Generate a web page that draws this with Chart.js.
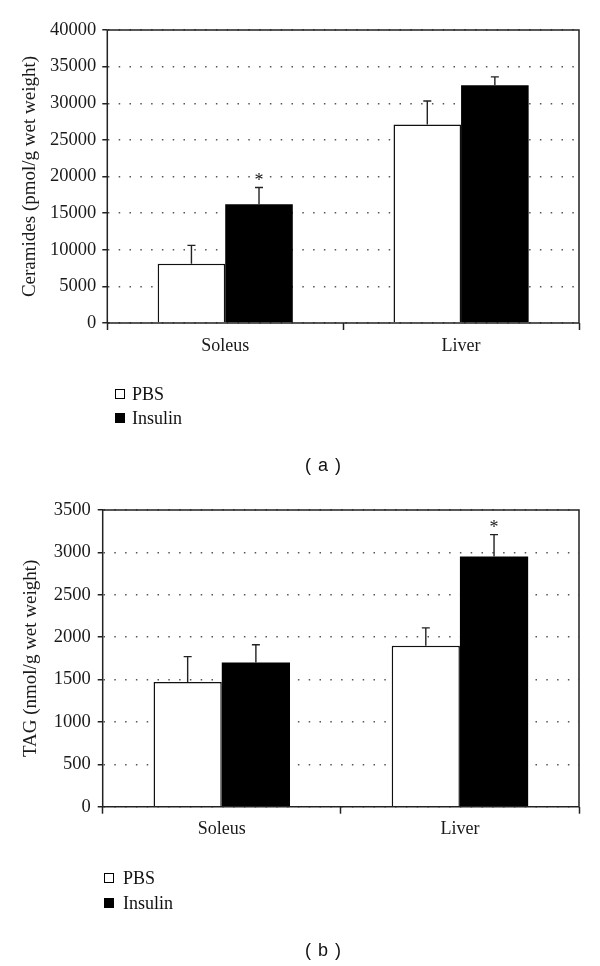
<!DOCTYPE html>
<html>
<head>
<meta charset="utf-8">
<script src="https://cdn.jsdelivr.net/npm/chart.js@4.4.1/dist/chart.umd.min.js"></script>
<style>
html,body{margin:0;padding:0;background:#fff;}
body{width:600px;height:966px;overflow:hidden;position:relative;font-family:'Liberation Serif',serif;}
.panel{position:absolute;left:0;width:600px;}
canvas{display:block;}
.row{position:absolute;white-space:nowrap;font-size:18px;line-height:20px;height:20px;color:#111;}
.sq{position:absolute;width:8px;height:8px;border:1px solid #000;}
.cap{position:absolute;font-family:'Liberation Sans',sans-serif;font-size:18px;color:#111;word-spacing:2px;transform:translate(-50%,-50%);white-space:pre;}
</style>
</head>
<body>
<div class="panel" style="top:0;height:480px;"><canvas id="chartA" width="600" height="480"></canvas></div>
<div class="panel" style="top:480px;height:486px;"><canvas id="chartB" width="600" height="486"></canvas></div>

<div class="sq" style="left:115px;top:389px;background:#fff;"></div>
<div class="row" style="left:132px;top:384px;">PBS</div>
<div class="sq" style="left:115px;top:413px;background:#000;"></div>
<div class="row" style="left:132px;top:408px;">Insulin</div>
<div class="cap" style="left:323px;top:465px;">( a )</div>

<div class="sq" style="left:104px;top:873px;background:#fff;"></div>
<div class="row" style="left:123px;top:868px;">PBS</div>
<div class="sq" style="left:104px;top:898px;background:#000;"></div>
<div class="row" style="left:123px;top:893px;">Insulin</div>
<div class="cap" style="left:323px;top:950px;">( b )</div>

<script>
// ---- data ----
const categories = ['Soleus', 'Liver'];
const seriesNames = ['PBS', 'Insulin'];

const ceramidePBS = [8100, 27100];
const ceramidePBSErr = [2500, 3200];
const ceramideInsulin = [16200, 32450];
const ceramideInsulinErr = [2300, 1150];
const ceramidePBSSig = [false, false];
const ceramideInsulinSig = [true, false];
const ceramideTitle = 'Ceramides (pmol/g wet weight)';
const ceramideMax = 40000;
const ceramideStep = 5000;

const tagPBS = [1470, 1900];
const tagPBSErr = [300, 210];
const tagInsulin = [1700, 2950];
const tagInsulinErr = [210, 260];
const tagPBSSig = [false, false];
const tagInsulinSig = [false, true];
const tagTitle = 'TAG (nmol/g wet weight)';
const tagMax = 3500;
const tagStep = 500;

const SERIF = "'Liberation Serif', 'Times New Roman', serif";
const TXT = '#1a1a1a';

const errorBarPlugin = {
  id: 'errorBars',
  afterDatasetsDraw(chart) {
    const ctx = chart.ctx;
    const y = chart.scales.y;
    const ca = chart.chartArea;
    ctx.save();
    ctx.strokeStyle = '#222';
    ctx.lineWidth = 1.5;
    ctx.beginPath();
    ctx.moveTo(ca.left, ca.bottom);
    ctx.lineTo(ca.left, ca.top);
    ctx.lineTo(ca.right, ca.top);
    ctx.lineTo(ca.right, ca.bottom);
    ctx.lineTo(ca.left, ca.bottom);
    ctx.stroke();
    chart.data.datasets.forEach((ds, i) => {
      const meta = chart.getDatasetMeta(i);
      meta.data.forEach((bar, j) => {
        const v = ds.data[j];
        const e = ds.errors[j];
        const yTop = y.getPixelForValue(v + e);
        ctx.strokeStyle = '#222';
        ctx.lineWidth = 1.4;
        ctx.beginPath();
        ctx.moveTo(bar.x, bar.y);
        ctx.lineTo(bar.x, yTop);
        ctx.moveTo(bar.x - 4, yTop);
        ctx.lineTo(bar.x + 4, yTop);
        ctx.stroke();
        if (ds.sig[j]) {
          ctx.fillStyle = TXT;
          ctx.font = '18px ' + SERIF;
          ctx.textAlign = 'center';
          ctx.textBaseline = 'alphabetic';
          ctx.fillText('*', bar.x, yTop - 1.5);
        }
      });
    });
    ctx.restore();
  }
};

function makeChart(id, g, pbs, pbsErr, pbsSig, ins, insErr, insSig, title, max, step) {
  return new Chart(document.getElementById(id), {
    type: 'bar',
    data: {
      labels: categories,
      datasets: [
        { label: seriesNames[0], data: pbs, errors: pbsErr, sig: pbsSig,
          backgroundColor: '#ffffff', borderColor: '#111', borderWidth: 1.5, borderSkipped: 'bottom' },
        { label: seriesNames[1], data: ins, errors: insErr, sig: insSig,
          backgroundColor: '#000000', borderColor: '#000', borderWidth: 0 }
      ]
    },
    options: {
      responsive: false,
      animation: false,
      layout: { padding: { top: g.top, right: 600 - g.right, left: 0, bottom: 0 } },
      plugins: { legend: { display: false }, tooltip: { enabled: false } },
      datasets: { bar: { categoryPercentage: 0.573, barPercentage: 1 } },
      scales: {
        x: {
          grid: { offset: true, drawOnChartArea: false, drawTicks: true, tickLength: 7,
                  tickColor: '#222', tickWidth: 1.5, color: '#222' },
          border: { display: false },
          ticks: { font: { family: SERIF, size: 18 }, color: TXT, padding: 5, maxRotation: 0 },
          afterFit: (s) => { s.height = g.h - g.bottom; }
        },
        y: {
          min: 0, max: max,
          grid: { color: '#555', lineWidth: 1.5, tickLength: 5, tickColor: '#222', tickWidth: 1.5,
                  tickBorderDash: [] },
          border: { display: false, dash: [1.5, 9.3], dashOffset: g.dashOff },
          ticks: { stepSize: step, font: { family: SERIF, size: 18.5 }, color: TXT, padding: g.tickPad,
                   callback: (v) => String(v) },
          title: { display: true, text: title, font: { family: SERIF, size: 19 }, color: TXT,
                   padding: { top: g.titleX - 11.4, bottom: 0 } },
          afterFit: (s) => { s.width = g.left; }
        }
      }
    },
    plugins: [errorBarPlugin]
  });
}

makeChart('chartA', { h: 480, top: 30, bottom: 323, left: 107.3, right: 579, tickPad: 6, titleX: 30, dashOff: 9.9 },
  ceramidePBS, ceramidePBSErr, ceramidePBSSig, ceramideInsulin, ceramideInsulinErr, ceramideInsulinSig,
  ceramideTitle, ceramideMax, ceramideStep);

makeChart('chartB', { h: 486, top: 30, bottom: 326.7, left: 102.7, right: 579, tickPad: 7, titleX: 31, dashOff: 10.3 },
  tagPBS, tagPBSErr, tagPBSSig, tagInsulin, tagInsulinErr, tagInsulinSig,
  tagTitle, tagMax, tagStep);
</script>
</body>
</html>
